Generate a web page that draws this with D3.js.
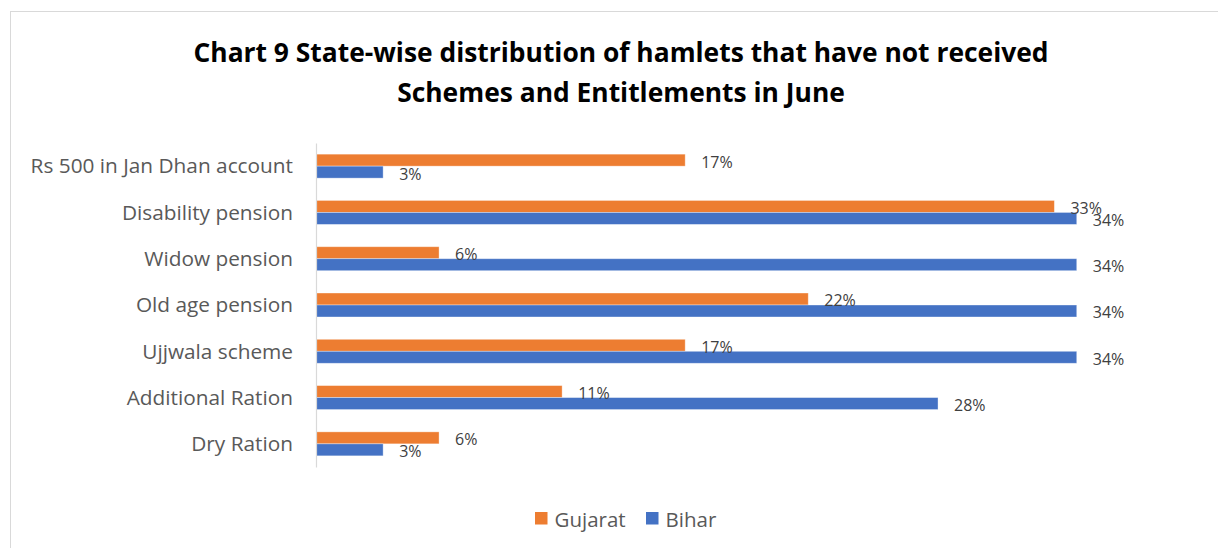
<!DOCTYPE html>
<html>
<head>
<meta charset="utf-8">
<script src="https://cdn.jsdelivr.net/npm/d3@7"></script>
<style>
  html, body { margin: 0; padding: 0; background: #fff; }
  svg { display: block; }
  text { font-family: "Open Sans", "Noto Sans", sans-serif; }
</style>
</head>
<body>
<script>
const categories = ["Rs 500 in Jan Dhan account", "Disability pension", "Widow pension", "Old age pension", "Ujjwala scheme", "Additional Ration", "Dry Ration"];
const seriesNames = ["Gujarat", "Bihar"];
const gujarat = [16.5, 33, 5.5, 22, 16.5, 11, 5.5];
const bihar = [3, 34, 34, 34, 34, 27.8, 3];
const titleLines = ["Chart 9 State-wise distribution of hamlets that have not received", "Schemes and Entitlements in June"];
const colors = { Gujarat: "#ED7D31", Bihar: "#4472C4" };

const W = 1218, H = 548;
const svg = d3.select("body").append("svg").attr("width", W).attr("height", H);

svg.append("rect").attr("x", 10.5).attr("y", 11.5).attr("width", 1230).attr("height", 560)
  .attr("fill", "#fff").attr("stroke", "#d9d9d9").attr("stroke-width", 1);

svg.append("text").attr("x", 621).attr("text-anchor", "middle")
  .attr("font-weight", "bold").attr("font-size", 26.4).attr("fill", "#000")
  .selectAll("tspan").data(titleLines).join("tspan")
  .attr("x", 621).attr("y", (d, i) => 62 + i * 40).text(d => d);

const x = d3.scaleLinear().domain([0, 40]).range([316, 1211]);
const y = d3.scaleBand().domain(categories).range([143, 467]).padding(0);
const yi = d3.scaleBand().domain(seriesNames).range([0, y.bandwidth()]).paddingInner(0).paddingOuter(0.93);

const rows = categories.map((c, i) => ({ cat: c, vals: [{ s: "Gujarat", v: gujarat[i] }, { s: "Bihar", v: bihar[i] }] }));

const g = svg.append("g");
const grp = g.selectAll("g.cat").data(rows).join("g").attr("class", "cat")
  .attr("transform", d => `translate(0,${y(d.cat)})`);

grp.selectAll("rect").data(d => d.vals).join("rect")
  .attr("x", x(0)).attr("y", d => yi(d.s))
  .attr("width", d => x(d.v) - x(0)).attr("height", yi.bandwidth())
  .attr("fill", d => colors[d.s]).attr("stroke", "#fff").attr("stroke-opacity", 0.45).attr("stroke-width", 0.8);

grp.selectAll("text.lbl").data(d => d.vals).join("text").attr("class", "lbl")
  .attr("x", d => x(d.v) + 16).attr("y", d => yi(d.s) + yi.bandwidth() / 2 + 1.5)
  .attr("dominant-baseline", "central").attr("font-size", 16).attr("fill", "#404040")
  .text(d => Math.round(d.v) + "%");

// category axis
const yAxis = d3.axisLeft(y).tickSize(0).tickPadding(23);
const ax = svg.append("g").attr("transform", `translate(${x(0)},0)`).call(yAxis);
ax.select(".domain").attr("stroke", "#d9d9d9").attr("stroke-width", 1.2);
ax.selectAll("text").attr("font-size", 20.8).attr("fill", "#595959")
  .attr("font-family", "'Open Sans', 'Noto Sans', sans-serif").attr("dy", "0.35em");

// legend
const legendX = { Gujarat: 535, Bihar: 646 };
const lg = svg.append("g").selectAll("g").data(seriesNames).join("g")
  .attr("transform", d => `translate(${legendX[d]},512)`);
lg.append("rect").attr("width", 12.5).attr("height", 12.5).attr("fill", d => colors[d]);
lg.append("text").attr("x", 19.5).attr("y", 6.5).attr("dominant-baseline", "central")
  .attr("font-size", 20.5).attr("fill", "#595959").text(d => d);
</script>
</body>
</html>
